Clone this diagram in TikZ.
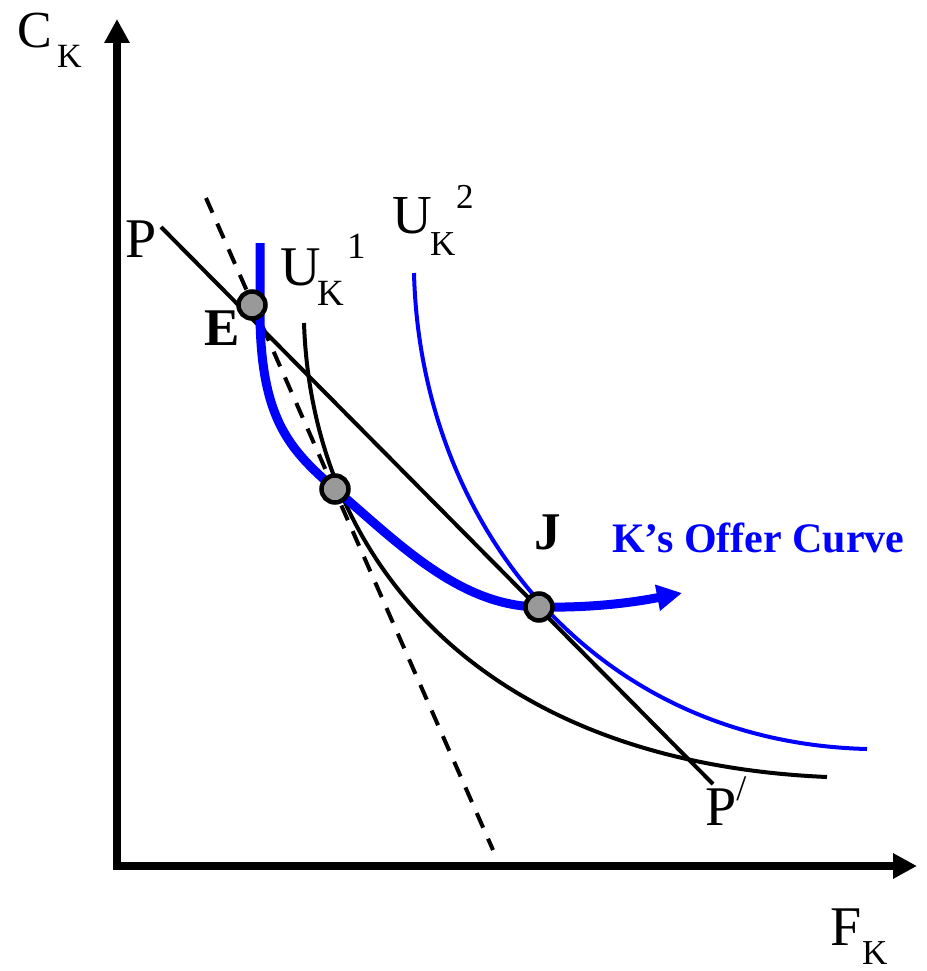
\documentclass[tikz,border=0pt]{standalone}
\usepackage{fontspec}
\setmainfont{Liberation Serif}
\usetikzlibrary{arrows.meta}
\definecolor{ptgray}{HTML}{999999}
\tikzset{
  axisline/.style={line width=8pt, -{Triangle[length=24pt,width=24pt]}},
  thinline/.style={line width=4pt},
  dashline/.style={line width=4pt, dash pattern=on 16pt off 12pt},
  offer/.style={line width=9pt, blue, -{Triangle[length=25pt,width=25pt]}},
  ptnode/.style={circle, draw=black, line width=4.5pt, fill=ptgray, minimum size=27pt, inner sep=0pt},
  lbl/.style={anchor=base west, inner sep=0pt},
}
\newcommand{\fs}[1]{\fontsize{#1}{#1}\selectfont}
\begin{document}
\begin{tikzpicture}[x=1pt,y=-1pt]
\useasboundingbox (0,0) rectangle (926,971);
% axes
\coordinate (orig) at (117,866);
\coordinate (ytip) at (117,19);
\coordinate (xtip) at (917,866);
\coordinate (xstart) at (113,866);
\draw[axisline] (orig) -- (ytip);
\draw[line width=8pt] (xstart) -- (orig);
\draw[axisline] (orig) -- (xtip);
% dashed tangent
\coordinate (d1) at (206,198);
\coordinate (d2) at (493,850);
\draw[dashline] (d1) -- (d2);
% price line PP'
\coordinate (p1) at (161,227);
\coordinate (p2) at (713,784);
\draw[thinline] (p1) -- (p2);
% indifference curve U1
\coordinate (u1a) at (304,323);
\coordinate (u1b) at (827,777);
\draw[thinline] (u1a) .. controls (312,560) and (480,762) .. (u1b);
% indifference curve U2
\coordinate (u2a) at (414,273);
\coordinate (u2b) at (867,749);
\draw[thinline, blue] (u2a) .. controls (420,520) and (590,742) .. (u2b);
% points
\coordinate (ocs) at (260,243);
\coordinate (oc1) at (260,320);
\coordinate (oce) at (682,593);
\coordinate (Mc) at (335,489);
\coordinate (Jc) at (539,607);
% offer curve
\draw[offer] (ocs) -- (oc1) .. controls (262,420) and (290,450) .. (Mc)
  .. controls (400,545) and (460,606) .. (Jc)
  .. controls (590,608) and (630,603) .. (oce);
\node[ptnode] (E) at (252,305) {};
\node[ptnode] (M) at (Mc) {};
\node[ptnode] (J) at (Jc) {};
% labels
\node[lbl, font=\fs{52}] (lC) at (17,48) {C};
\node[lbl, font=\fs{34}] (lCK) at (57,68) {K};
\node[lbl, font=\fs{56}] (lF) at (830,945) {F};
\node[lbl, font=\fs{35}] (lFK) at (862,964) {K};
\node[lbl, font=\fs{56}] (lP) at (125,257) {P};
\node[lbl, font=\fs{56}] (lP2) at (705,825) {P{\fs{36}\raisebox{25pt}{/}}};
\node[lbl, font=\fs{56}] (lU1) at (280,285) {U};
\node[lbl, font=\fs{37}] (lU1K) at (317,305) {K};
\node[lbl, font=\fs{37}] (lU1s) at (347,258) {1};
\node[lbl, font=\fs{55}] (lU2) at (392,233) {U};
\node[lbl, font=\fs{35}] (lU2K) at (430,255) {K};
\node[lbl, font=\fs{35}] (lU2s) at (456,208) {2};
\node[lbl, font=\fs{53}\bfseries] (lE) at (204,345) {E};
\node[lbl, font=\fs{53}\bfseries] (lJ) at (534,549) {J};
\node[lbl, font=\fs{42}\bfseries, text=blue] (lOC) at (612,552) {K’s Offer Curve};
\end{tikzpicture}
\end{document}
